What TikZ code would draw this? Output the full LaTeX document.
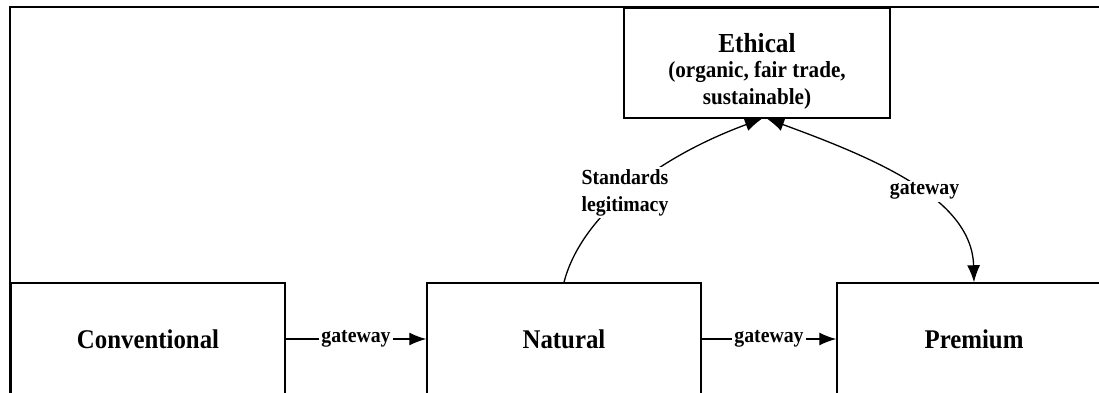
\documentclass[tikz,border=0pt]{standalone}
\usepackage{fontspec}
\setmainfont{Liberation Serif}[FakeStretch=0.92]
\usetikzlibrary{arrows.meta}
\begin{document}
\begin{tikzpicture}[x=1pt,y=-1pt,
  box/.style={draw, line width=1.5pt, minimum width=274pt, minimum height=112pt, inner sep=0pt,
    font=\fontsize{27}{30}\selectfont\bfseries},
  lbl/.style={font=\fontsize{21.5}{27}\selectfont\bfseries, fill=white, inner sep=2pt, align=center},
  tip/.tip={Latex[length=17pt,width=13pt]},
  arr/.style={line width=1.3pt, -tip},
  darr/.style={line width=1.3pt, tip-tip}]
\useasboundingbox (0,0) rectangle (1099,392);
\clip (0,0) rectangle (1099,392);
% frame
\draw[line width=2.4pt] (10,400) -- (10,7) -- (1110,7);
% boxes
\node[box] (conv) at (148,339) {Conventional};
\node[box] (nat) at (564,339) {Natural};
\node[box] (prem) at (974,339) {Premium};
\node[draw, line width=1.5pt, minimum width=266pt, minimum height=110pt, inner sep=0pt,
  align=center, font=\fontsize{23}{27}\selectfont\bfseries] (eth) at (757,63)
  {\rule{0pt}{35pt}{\fontsize{27.5}{27}\selectfont Ethical}\\[-2pt](organic, fair trade,\\[0pt]sustainable)};
% gateway arrows
\draw[arr] (conv.east) -- node[lbl] {gateway} (nat.west);
\draw[arr] (nat.east) -- node[lbl] {gateway} (prem.west);
% curves
\draw[arr] (nat.north) .. controls (580,220) and (650,160) .. ([xshift=5pt]eth.south)
  node[lbl, pos=0.5, xshift=-2pt] {Standards\\legitimacy};
\draw[darr] ([xshift=10pt]eth.south) .. controls (880,160) and (972,200) .. (prem.north)
  node[lbl, pos=0.52, xshift=8pt, yshift=-3pt] {gateway};
\end{tikzpicture}
\end{document}
